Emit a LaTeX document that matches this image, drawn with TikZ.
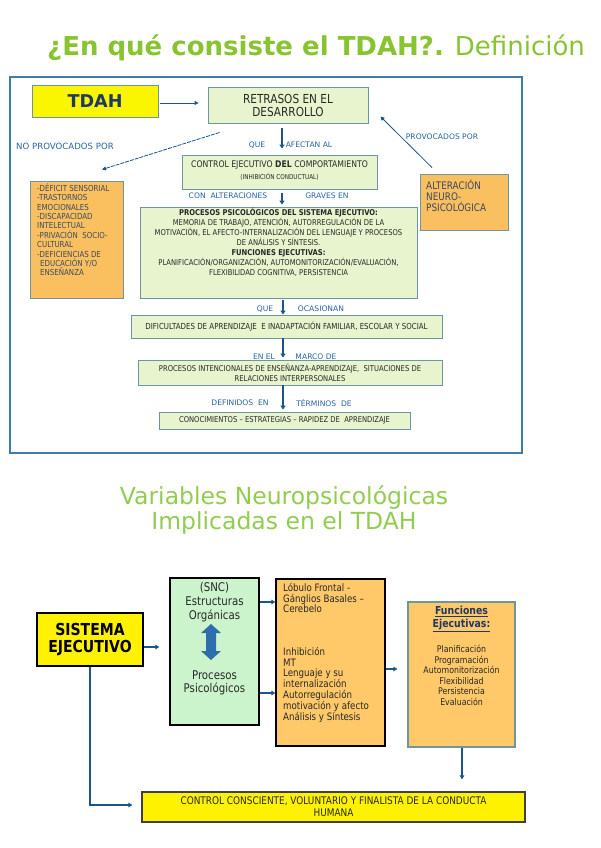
\documentclass[tikz,border=0pt]{standalone}
\usepackage{fontspec}
\setmainfont{DejaVu Sans}
\newfontfamily\nar[FakeStretch=0.85]{DejaVu Sans}
\usetikzlibrary{arrows.meta}
\definecolor{tgreenA}{RGB}{136,196,48}
\definecolor{tgreenB}{RGB}{146,204,80}
\definecolor{frameblue}{RGB}{64,124,170}
\definecolor{lgreen}{RGB}{232,244,205}
\definecolor{lgborder}{RGB}{110,150,160}
\definecolor{orangeA}{RGB}{250,192,95}
\definecolor{orangeB}{RGB}{255,200,105}
\definecolor{lblue}{RGB}{40,100,160}
\definecolor{ablue}{RGB}{30,85,135}
\definecolor{ytdah}{RGB}{250,245,0}
\definecolor{navy}{RGB}{31,56,100}
\definecolor{mint}{RGB}{204,244,204}
\definecolor{btext}{RGB}{40,40,40}
\definecolor{otext}{RGB}{60,72,100}
\definecolor{dblue}{RGB}{46,110,170}
\tikzset{
  gbox/.style={draw=lgborder, line width=0.9pt, fill=lgreen, inner sep=0pt, text=btext, align=center},
  obox/.style={draw=lgborder, line width=0.9pt, fill=orangeA, inner sep=0pt},
  lab/.style={text=lblue, font=\fontsize{7.6}{8}\selectfont, inner sep=0pt},
  varr/.style={draw=ablue, line width=1.8pt, -{Triangle[length=4pt,width=5pt]}},
  tarr/.style={draw=ablue, line width=0.8pt, -{Triangle[length=4pt,width=4pt]}},
  parr/.style={draw=ablue, line width=1.2pt, -{Triangle[length=4pt,width=4.5pt]}},
  kbox/.style={draw=black, line width=1.3pt, inner sep=0pt},
  txt/.style={inner sep=0pt, text=btext},
}
\begin{document}
\begin{tikzpicture}[x=1pt,y=-1pt]
\useasboundingbox (0,0) rectangle (600,848);
\fill[white] (0,0) rectangle (600,848);

% ---------- Title 1 ----------
\node[anchor=base west, inner sep=0pt, text=tgreenA, font=\fontsize{26}{30}\selectfont] (t1) at (47,56)
  {\textbf{¿En qué consiste el TDAH?.} Definición};

% ---------- Panel 1 frame ----------
\draw[frameblue, line width=1.8pt] (10,77) rectangle (522,453);

\node[draw=lgborder, line width=0.9pt, fill=ytdah, minimum width=126pt, minimum height=32pt, inner sep=0pt,
      text=navy, font=\bfseries\fontsize{17.6}{20}\selectfont] (tdah) at (95,101) {TDAH};

\node[gbox, minimum width=160pt, minimum height=36pt, font=\nar\fontsize{12.4}{13}\selectfont] (retr) at (288,105)
  {RETRASOS EN EL\\DESARROLLO};

\node[gbox, minimum width=195pt, minimum height=34pt] (ctrl) at (279.5,172) {};
\node[txt, align=center, anchor=north] (ctrlt) at (279.5,161)
  {\nar\fontsize{9.1}{8.5}\selectfont CONTROL EJECUTIVO \textbf{DEL} COMPORTAMIENTO\\[-0.5pt]
   \nar\fontsize{6.7}{8}\selectfont (INHIBICIÓN CONDUCTUAL)};

\node[gbox, minimum width=277pt, minimum height=91pt] (proc) at (278.5,252.5) {};
\node[txt, align=center, anchor=north, font=\nar\fontsize{8}{10}\selectfont] (proct) at (278.5,207.5)
  {\textbf{PROCESOS PSICOLÓGICOS DEL SISTEMA EJECUTIVO:}\\
   MEMORIA DE TRABAJO, ATENCIÓN, AUTORREGULACIÓN DE LA\\
   MOTIVACIÓN, EL AFECTO-INTERNALIZACIÓN DEL LENGUAJE Y PROCESOS\\
   DE ANÁLISIS Y SÍNTESIS.\\
   \textbf{FUNCIONES EJECUTIVAS:}\\
   PLANIFICACIÓN/ORGANIZACIÓN, AUTOMONITORIZACIÓN/EVALUACIÓN,\\
   FLEXIBILIDAD COGNITIVA, PERSISTENCIA};

\node[obox, minimum width=93pt, minimum height=117pt] (lor) at (76.5,239.5) {};
\node[txt, text=otext, align=left, anchor=north west, font=\nar\fontsize{8.3}{9.4}\selectfont] (lort) at (37,183.5)
  {-DÉFICIT SENSORIAL\\
   -TRASTORNOS\\
   EMOCIONALES\\
   -DISCAPACIDAD\\
   INTELECTUAL\\
   -PRIVACIÓN\ \ SOCIO-\\
   CULTURAL\\
   -DEFICIENCIAS DE\\
   \hspace*{3pt}EDUCACIÓN Y/O\\
   \hspace*{3pt}ENSEÑANZA};

\node[obox, minimum width=88pt, minimum height=56pt] (alt) at (464,202) {};
\node[txt, text=otext, align=left, anchor=north west, font=\nar\fontsize{10.4}{11}\selectfont] (altt) at (426,180)
  {ALTERACIÓN\\NEURO-\\PSICOLÓGICA};

\node[gbox, minimum width=311pt, minimum height=23pt, font=\nar\fontsize{8.3}{10}\selectfont] (dif) at (286.5,326.5)
  {DIFICULTADES DE APRENDIZAJE\ \ E INADAPTACIÓN FAMILIAR, ESCOLAR Y SOCIAL};

\node[gbox, minimum width=304pt, minimum height=25pt, font=\nar\fontsize{8}{10}\selectfont] (proci) at (290,372.5)
  {PROCESOS INTENCIONALES DE ENSEÑANZA-APRENDIZAJE,\ \ SITUACIONES DE\\RELACIONES INTERPERSONALES};

\node[gbox, minimum width=251pt, minimum height=17pt, font=\nar\fontsize{8}{10}\selectfont] (cono) at (284.5,420.5)
  {CONOCIMIENTOS – ESTRATEGIAS – RAPIDEZ DE\ \ APRENDIZAJE};

% labels
\node[lab] (l1) at (257,145) {QUE};
\node[lab] (l2) at (309,145) {AFECTAN AL};
\node[lab, font=\fontsize{8.6}{9}\selectfont] (l3) at (65,146) {NO PROVOCADOS POR};
\node[lab] (l4) at (442,137) {PROVOCADOS POR};
\node[lab] (l5) at (228,196) {CON\ \ ALTERACIONES};
\node[lab] (l6) at (327,196) {GRAVES EN};
\node[lab] (l7) at (265,309) {QUE};
\node[lab] (l8) at (321,309) {OCASIONAN};
\node[lab] (l9) at (264,357) {EN EL};
\node[lab] (l10) at (316,357) {MARCO DE};
\node[lab] (l11) at (240,403) {DEFINIDOS\ \ EN};
\node[lab] (l12) at (324,403) {TÉRMINOS\ \ DE};

% arrows panel 1
\draw[tarr] ([shift={(2,2)}]tdah.east) -- ([shift={(-9,-2)}]retr.west);
\draw[varr] ([shift={(-6,5)}]retr.south) -- ([shift={(2.5,-6)}]ctrl.north);
\draw[varr] ([shift={(2.5,4)}]ctrl.south) -- ([shift={(3.5,-2)}]proc.north);
\draw[varr] ([shift={(4.5,2)}]proc.south) -- ([shift={(-3.5,0)}]dif.north);
\draw[varr] ([shift={(-3.5,0)}]dif.south) -- ([shift={(-7,-2)}]proci.north);
\draw[varr] ([shift={(-7,0)}]proci.south) -- ([shift={(-1.5,-2)}]cono.north);
\draw[tarr, dash pattern=on 4pt off 1pt] ([shift={(12,9)}]retr.south west) -- ([shift={(25.5,-11)}]lor.north);
\draw[tarr] ([shift={(-32,-6)}]alt.north) -- ([shift={(12,30)}]retr.north east);

% ---------- Title 2 ----------
\node[anchor=base, inner sep=0pt, text=tgreenB, font=\fontsize{23.5}{25}\selectfont] (t2a) at (284,504) {Variables Neuropsicológicas};
\node[anchor=base, inner sep=0pt, text=tgreenB, font=\fontsize{23.5}{25}\selectfont] (t2b) at (284,529) {Implicadas en el TDAH};

% ---------- Panel 2 ----------
\node[kbox, fill=yellow, minimum width=106pt, minimum height=53pt, align=center,
      font=\nar\bfseries\fontsize{16.5}{17}\selectfont] (sis) at (90,639.5) {SISTEMA\\EJECUTIVO};

\node[kbox, fill=mint, minimum width=89pt, minimum height=147pt] (snc) at (214.5,651.5) {};
\node[txt, align=center, anchor=north, font=\nar\fontsize{12}{14}\selectfont] (snct) at (214.5,582)
  {(SNC)\\Estructuras\\Orgánicas};
\node[txt, align=center, font=\nar\fontsize{12}{13}\selectfont] (proct2) at (214.5,683)
  {Procesos\\Psicológicos};
\fill[dblue] (211,624) -- (221,633) -- (216,633) -- (216,651) -- (221,651) -- (211,660)
  -- (201,651) -- (206,651) -- (206,633) -- (201,633) -- cycle;

\node[kbox, fill=orangeB, minimum width=109pt, minimum height=167pt] (orm) at (330.5,662.5) {};
\node[txt, align=left, anchor=north west, font=\nar\fontsize{10.2}{10.8}\selectfont] (ormt1) at (283,583)
  {Lóbulo Frontal -\\Gánglios Basales –\\Cerebelo};
\node[txt, align=left, anchor=north west, font=\nar\fontsize{10.2}{10.8}\selectfont] (ormt2) at (283,647)
  {Inhibición\\MT\\Lenguaje y su\\internalización\\Autorregulación\\motivación y afecto\\Análisis y Síntesis};

\node[draw=lgborder, line width=1.2pt, fill=orangeB, inner sep=0pt, minimum width=107pt, minimum height=145pt] (fun) at (461.5,674.5) {};
\node[txt, align=center, anchor=north, text=navy, font=\nar\bfseries\fontsize{11}{13}\selectfont] (funh) at (461.5,606)
  {\underline{Funciones}\\\underline{Ejecutivas:}};
\node[txt, align=center, anchor=north, font=\nar\fontsize{9.2}{10.6}\selectfont] (funt) at (461.5,645)
  {Planificación\\Programación\\Automonitorización\\Flexibilidad\\Persistencia\\Evaluación};

\node[draw=black!75, line width=1.2pt, fill=yellow, inner sep=0pt, minimum width=383pt, minimum height=30pt,
      align=center, text=btext, font=\nar\fontsize{10.5}{12}\selectfont] (cc) at (333.5,807)
  {CONTROL CONSCIENTE, VOLUNTARIO Y FINALISTA DE LA CONDUCTA\\HUMANA};

% arrows panel 2
\draw[parr] ([shift={(0,7.5)}]sis.east) -- ([shift={(-10,-4.5)}]snc.west);
\draw[parr] ([shift={(0,-49.5)}]snc.east) -- ([shift={(0,-60.5)}]orm.west);
\draw[parr] ([shift={(0,41.5)}]snc.east) -- ([shift={(0,30.5)}]orm.west);
\draw[parr] ([shift={(0,6.5)}]orm.east) -- ([shift={(-10,-5.5)}]fun.west);
\draw[parr] ([shift={(0.5,0)}]fun.south) -- ([shift={(128.5,-12)}]cc.north);
\draw[parr] (sis.south) |- ([shift={(-9,-2)}]cc.west);
\end{tikzpicture}
\end{document}
